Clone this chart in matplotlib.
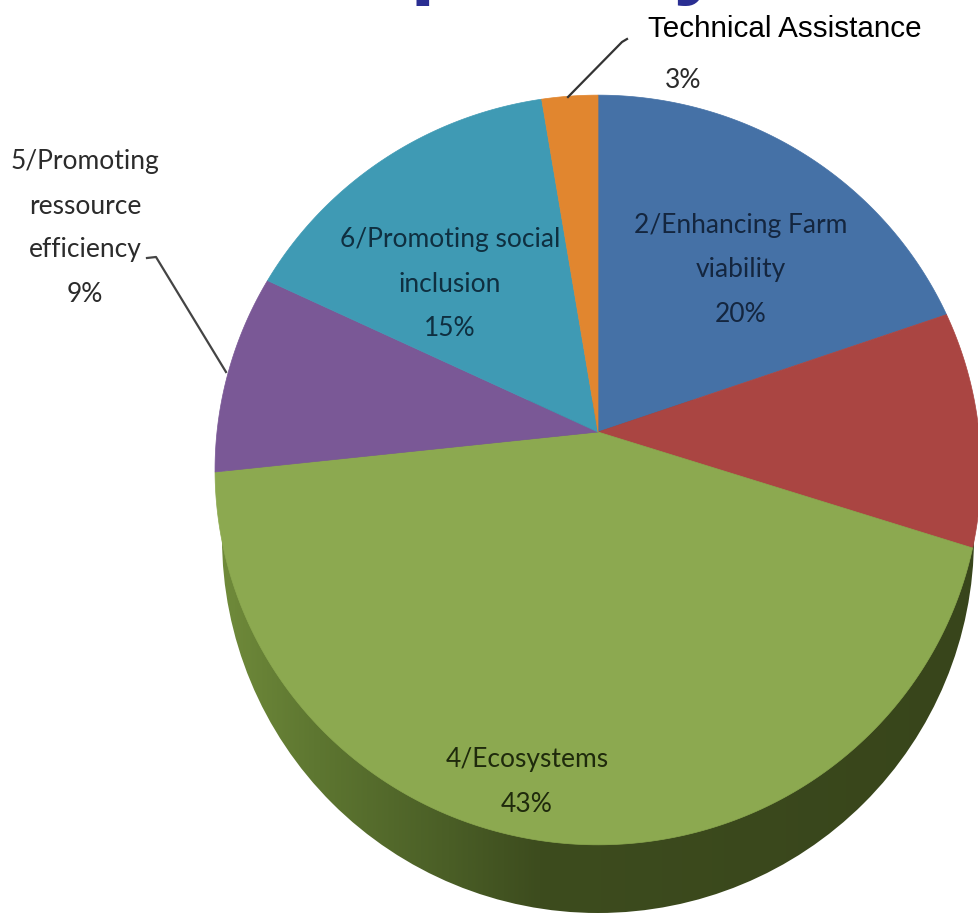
import numpy as np
import matplotlib
matplotlib.use("Agg")
import matplotlib.pyplot as plt
from matplotlib.colors import LinearSegmentedColormap
from matplotlib.patches import Ellipse

# Slices, clockwise from 12 o'clock
slice_names = ["2/Enhancing Farm", "3/unlabelled", "4/Ecosystems", "5/Promoting", "6/Promoting social", "Technical Assistance"]
slice_values = [19.7, 10.2, 43.4, 8.7, 15.4, 2.6]
slice_colors = ["#4571A6", "#AA4542", "#8CA950", "#7A5896", "#3F9AB4", "#E1862F"]

# Tilted pie seen in perspective, all in image pixels
CX, CY = 598, 432
SX, SY, TILT = 381, 371, 0.1013
SIDE_CY, SIDE_RX, SIDE_RY = 538, 376, 375


def project(theta):
    # theta clockwise from top, circle mapped through a simple perspective
    x, y = np.sin(theta), np.cos(theta)
    w = 1 + TILT * y
    return CX + SX * x / w, CY - SY * y / w


fig = plt.figure(figsize=(9.79, 9.14), dpi=100)
ax = fig.add_axes([0, 0, 1, 1])
ax.set_xlim(0, 979)
ax.set_ylim(914, 0)
ax.axis("off")

# Side of the pie, gradient clipped to the lower rim
side_cmap = LinearSegmentedColormap.from_list(
    "side", [(0, "#6F8A3A"), (0.12, "#5E7731"), (0.3, "#4A5E26"), (0.42, "#3D4C1E"), (1, "#38451B")]
)
side = ax.imshow(np.linspace(0, 1, 400).reshape(1, -1), cmap=side_cmap, aspect="auto",
                 extent=[SIDE_RX * -1 + CX, CX + SIDE_RX, 914, 400], zorder=1)
rim = Ellipse((CX, SIDE_CY), 2 * SIDE_RX, 2 * SIDE_RY, transform=ax.transData, fc="none", ec="none")
ax.add_patch(rim)
side.set_clip_path(rim)
ax.set_xlim(0, 979)
ax.set_ylim(914, 0)

# Top face
edges = np.cumsum([0] + slice_values) / sum(slice_values) * 2 * np.pi
for i, color in enumerate(slice_colors):
    t = np.linspace(edges[i], edges[i + 1], 200)
    px, py = project(t)
    ax.fill(np.r_[CX, px], np.r_[CY, py], color=color, lw=0.5, zorder=2)

# Leader lines
ax.plot([568, 622, 627], [97, 42, 39], color="#333333", lw=1.6, zorder=3)
ax.plot([147, 156, 226], [258, 257, 372], color="#444444", lw=1.6, zorder=3)

label_font = dict(family="Lato", fontsize=19, ha="center", va="center", zorder=4)
ax.text(741, 270, "2/Enhancing Farm\nviability\n20%", linespacing=1.95, color="#14263f", **label_font)
ax.text(450, 284, "6/Promoting social\ninclusion\n15%", linespacing=1.95, color="#0f2f40", **label_font)
ax.text(85, 228, "5/Promoting\nressource\nefficiency\n9%", linespacing=1.95, color="#2b2b2b", **label_font)
ax.text(527, 782, "4/Ecosystems\n43%", linespacing=1.95, color="#1f2a0c", **label_font)
ax.text(683, 80, "3%", color="#2b2b2b", **label_font)
ax.text(785, 29, "Technical Assistance", family="Liberation Sans", fontsize=21.3, color="black",
        ha="center", va="center", zorder=4)

# Bottom of the cropped headline
ax.text(438, -13, "p", family="Liberation Sans", fontweight="bold", fontsize=67, color="#2A2E92",
        ha="center", va="baseline", clip_on=True)
ax.text(698, -13, "y", family="Liberation Sans", fontweight="bold", fontsize=67, color="#2A2E92",
        ha="center", va="baseline", clip_on=True)

fig.savefig("out.png", dpi=100)
